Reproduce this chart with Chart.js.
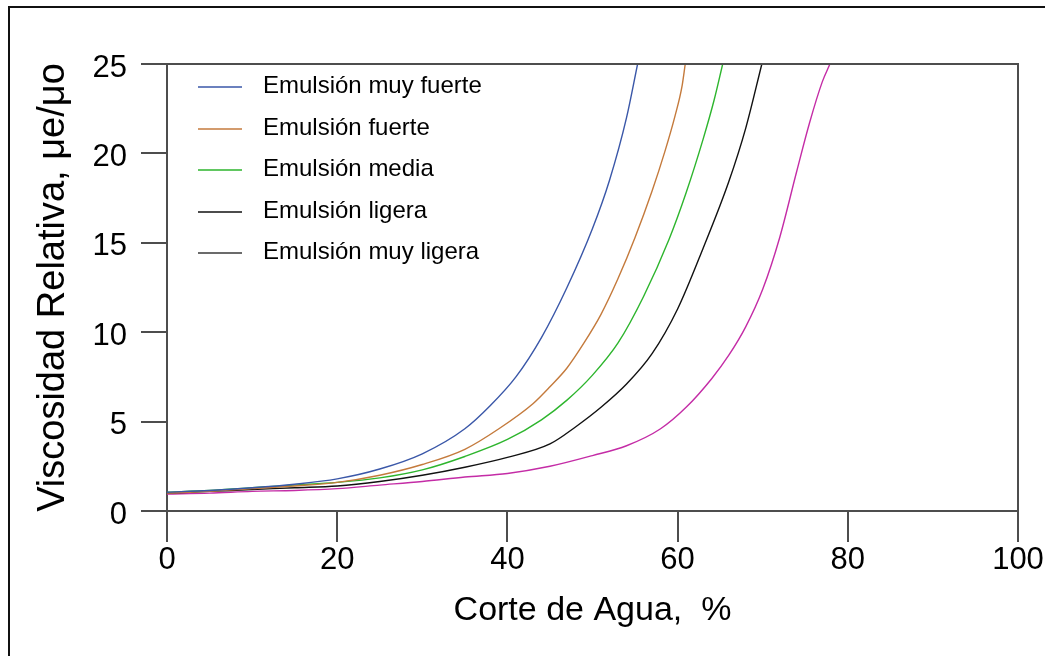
<!DOCTYPE html>
<html lang="es">
<head>
<meta charset="utf-8">
<title>Viscosidad Relativa vs Corte de Agua</title>
<script src="https://cdn.jsdelivr.net/npm/chart.js@4.4.1/dist/chart.umd.min.js"></script>
<style>
    html, body { margin: 0; padding: 0; background: #fff; }
    #wrap { position: relative; width: 1045px; height: 656px; overflow: hidden; }
    #frame { position: absolute; left: 8px; top: 6px; width: 1100px; height: 700px; border: 2px solid #111; }
    #viscChart { position: absolute; left: 0; top: 0; }
</style>
</head>
<body>
<div id="wrap">
    <div id="frame"></div>
    <canvas id="viscChart" width="1045" height="656"></canvas>
</div>
<script>
"use strict";

/** DATA */

const SERIES_LABELS = ['Emulsión muy fuerte', 'Emulsión fuerte', 'Emulsión media', 'Emulsión ligera', 'Emulsión muy ligera'];

// Corte de agua (%) / viscosidad relativa for each curve
const muyFuerteX = [0, 5, 10, 15, 20, 25, 30, 35, 38, 41, 44, 47, 50, 52, 54, 55.3];
const muyFuerteY = [1.05, 1.15, 1.3, 1.5, 1.8, 2.35, 3.2, 4.6, 5.9, 7.5, 9.7, 12.5, 15.8, 18.5, 22.0, 25];

const fuerteX = [0, 5, 10, 15, 20, 25, 30, 35, 39, 43, 45, 47, 49, 51, 53, 55, 57, 58.5, 59.7, 60.5, 60.9];
const fuerteY = [1.0, 1.1, 1.25, 1.4, 1.6, 2.0, 2.6, 3.45, 4.6, 6.0, 6.95, 8.0, 9.4, 11.0, 13.0, 15.3, 17.9, 20.1, 22.1, 23.7, 25];

const mediaX = [0, 5, 10, 15, 20, 25, 30, 35, 40, 44, 47, 50, 53, 56, 59, 61, 63, 64.3, 65.3];
const mediaY = [1.05, 1.15, 1.3, 1.45, 1.6, 1.85, 2.3, 3.05, 4.0, 5.1, 6.2, 7.6, 9.4, 12.0, 15.2, 17.8, 20.8, 23.0, 25];

const ligeraX = [0, 5, 10, 15, 20, 25, 30, 35, 40, 45, 48, 51, 54, 57, 60, 63, 66, 68, 69.9];
const ligeraY = [1.0, 1.1, 1.2, 1.3, 1.4, 1.65, 2.0, 2.45, 3.0, 3.75, 4.7, 5.8, 7.1, 8.8, 11.3, 14.7, 18.4, 21.4, 25];

const muyLigeraX = [0, 5, 10, 15, 20, 25, 30, 35, 40, 45, 50, 54, 58, 61, 64, 66, 68, 70, 72, 74, 75.5, 77, 77.9];
const muyLigeraY = [0.95, 1.0, 1.1, 1.15, 1.25, 1.45, 1.65, 1.9, 2.1, 2.5, 3.1, 3.65, 4.6, 5.8, 7.4, 8.7, 10.3, 12.4, 15.3, 19.0, 21.7, 24.0, 25];

// Axis ticks
const X_TICKS = [0, 20, 40, 60, 80, 100];
const Y_TICKS = [0, 5, 10, 15, 20, 25];

/** STYLES */

const LINE_COLORS = ['#3a57a8', '#c47a3c', '#2db52d', '#111111', '#c42ca6'];
const LEGEND_COLORS = ['#3a57a8', '#c47a3c', '#2db52d', '#111111', '#3a3a3a'];
const AXIS_COLOR = '#4d4d4d';
const FONT = '"Liberation Sans", Arial, sans-serif';

const toPoints = (xs, ys) => xs.map((x, i) => ({ x: x, y: ys[i] }));

const SERIES = [
    toPoints(muyFuerteX, muyFuerteY),
    toPoints(fuerteX, fuerteY),
    toPoints(mediaX, mediaY),
    toPoints(ligeraX, ligeraY),
    toPoints(muyLigeraX, muyLigeraY)
];

/** PLUGINS */

// Closes the plot box (top and right sides)
const plotBox = {
    id: 'plotBox',
    afterDraw: chart => {
        const { ctx, chartArea: a } = chart;
        ctx.save();
        ctx.strokeStyle = AXIS_COLOR;
        ctx.lineWidth = 2;
        ctx.beginPath();
        ctx.moveTo(a.left, a.top);
        ctx.lineTo(a.right, a.top);
        ctx.lineTo(a.right, a.bottom);
        ctx.stroke();
        ctx.restore();
    }
};

// Legend drawn inside the plot, top left
const insideLegend = {
    id: 'insideLegend',
    afterDraw: chart => {
        const { ctx } = chart;
        const rows = [87, 129, 170, 212, 253];
        ctx.save();
        ctx.font = `24px ${ FONT }`;
        ctx.textBaseline = 'middle';
        ctx.textAlign = 'left';
        chart.data.datasets.forEach((ds, i) => {
            ctx.strokeStyle = LEGEND_COLORS[i];
            ctx.lineWidth = 1.3;
            ctx.beginPath();
            ctx.moveTo(198, rows[i]);
            ctx.lineTo(242, rows[i]);
            ctx.stroke();
            ctx.fillStyle = '#000';
            ctx.fillText(ds.label, 263, rows[i] - 1);
        });
        ctx.restore();
    }
};

/** INITIALIZE CHART */

const viscChart = new Chart(document.getElementById('viscChart').getContext('2d'), {
    type: 'line',
    data: {
        datasets: SERIES.map((points, i) => ({
            label: SERIES_LABELS[i],
            data: points,
            borderColor: LINE_COLORS[i],
            borderWidth: 1.4,
            pointRadius: 0,
            fill: false,
            cubicInterpolationMode: 'monotone'
        }))
    },
    options: {
        responsive: false,
        animation: false,
        layout: {
            padding: { top: 64, right: 27, left: 0, bottom: 0 }
        },
        plugins: {
            legend: { display: false },
            tooltip: { enabled: false }
        },
        scales: {
            x: {
                type: 'linear',
                min: 0,
                max: 100,
                afterFit: scale => { scale.height = 145 },
                afterBuildTicks: scale => { scale.ticks = X_TICKS.map(v => ({ value: v })) },
                grid: {
                    drawOnChartArea: false,
                    drawTicks: true,
                    tickLength: 31,
                    color: AXIS_COLOR,
                    lineWidth: 2
                },
                border: { color: AXIS_COLOR, width: 2 },
                ticks: {
                    color: '#000',
                    padding: 0,
                    maxRotation: 0,
                    font: { family: FONT, size: 31 }
                },
                title: {
                    display: true,
                    text: 'Corte de Agua,  %',
                    color: '#000',
                    padding: { top: 0, bottom: 25 },
                    font: { family: FONT, size: 34 }
                }
            },
            y: {
                type: 'linear',
                min: 0,
                max: 25,
                afterFit: scale => { scale.width = 167 },
                afterBuildTicks: scale => { scale.ticks = Y_TICKS.map(v => ({ value: v })) },
                grid: {
                    drawOnChartArea: false,
                    drawTicks: true,
                    tickLength: 26,
                    color: AXIS_COLOR,
                    lineWidth: 2
                },
                border: { color: AXIS_COLOR, width: 2 },
                ticks: {
                    color: '#000',
                    padding: 14,
                    labelOffset: 4,
                    font: { family: FONT, size: 31 }
                },
                title: {
                    display: true,
                    text: 'Viscosidad Relativa, μe/μo',
                    color: '#000',
                    padding: { top: 31, bottom: 0 },
                    font: { family: FONT, size: 38 }
                }
            }
        }
    },
    plugins: [plotBox, insideLegend]
});
</script>
</body>
</html>
